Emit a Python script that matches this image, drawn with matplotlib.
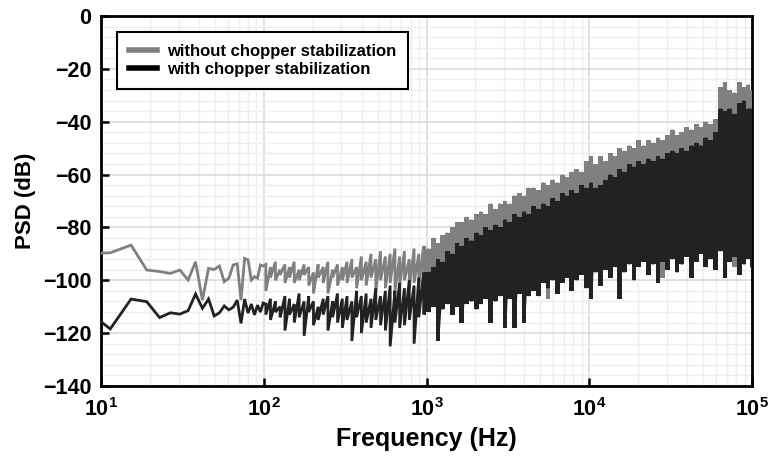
import numpy as np
import matplotlib
matplotlib.use("Agg")
import matplotlib.pyplot as plt
from matplotlib.lines import Line2D

# ---- data ----
# low-frequency FFT bins (Hz) and PSD (dB)
f_low = [7.6, 11.4, 15.3, 19.1, 22.9, 26.7, 30.5, 34.3, 38.1, 42.0, 45.8, 49.6, 53.4,
         57.2, 61.0, 64.9, 68.7, 72.5, 76.3, 80.1, 83.9, 87.7, 91.6, 95.4, 99.2]
gray_low = [-90, -89.6, -86.7, -96.1, -96.7, -97.4, -96.1, -99.9, -93.0, -107.5, -95.5, -95.9, -94.6,
            -100.5, -99.2, -94.2, -93.8, -107.5, -91.7, -92.3, -99.9, -98.6, -99.2, -94.2, -94.6]
black_low = [-110, -118.4, -107.1, -108.1, -114.1, -112.3, -112.8, -111.5, -105.2, -110.6, -107.1, -113.5, -112.3,
             -109.7, -111.2, -110.2, -107.5, -116.3, -107.1, -112.4, -109.0, -113.1, -109.4, -112.0, -108.6]

# dense part: per frequency, local max / min of each trace
f_band = [103, 110, 118, 126, 135, 144, 154, 165, 177, 189, 202, 216, 232, 248, 265, 284, 304, 325,
          348, 372, 398, 426, 456, 488, 522, 559, 598, 640, 684, 732, 784, 839, 897, 960,
          1027, 1099, 1176, 1258, 1346, 1441, 1541, 1649, 1765, 1888, 2020, 2162, 2313, 2475,
          2648, 2834, 3032, 3244, 3471, 3714, 3974, 4252, 4550, 4869, 5209, 5574, 5964, 6382,
          6828, 7306, 7818, 8365, 8951, 9577, 10248, 10965, 11733, 12554, 13433, 14373, 15379,
          16456, 17608, 18840, 20159, 21570, 23080, 24696, 26424, 28274, 30253, 32371, 34637,
          37062, 39656, 42432, 45402, 48580, 51981, 55619, 59513, 63679, 68136, 72906, 78009,
          83470, 89313, 95565, 100000]

gray_hi = [-94, -95, -93, -96, -94, -95, -93, -96, -94, -95, -97, -94, -95, -93, -96, -94, -95, -93,
           -92, -95, -91, -93, -90, -92, -89, -91, -90, -88, -91, -89, -92, -88, -90, -87,
           -88, -84, -86, -83, -82, -80, -78, -78, -76, -77, -75, -74, -75, -71,
           -73, -71, -70, -71, -68, -67, -68, -65, -65, -66, -63, -64, -62, -63,
           -60, -61, -59, -58, -59, -55, -53, -56, -53, -55, -52, -53, -50,
           -51, -49, -50, -47, -49, -47, -48, -46, -47, -45, -43, -45,
           -44, -42, -43, -41, -42, -40, -41, -39, -27, -25, -28, -29,
           -25, -27, -26, -28]
gray_lo = [-104, -99, -100, -98, -101, -99, -101, -100, -98, -102, -105, -99, -101, -105, -99, -102, -100, -101,
           -99, -103, -100, -102, -99, -104, -100, -103, -101, -104, -102, -100, -103, -101, -102, -104,
           -108, -105, -112, -106, -104, -109, -106, -110, -105, -103, -107, -104, -102, -110,
           -103, -101, -112, -102, -111, -100, -108, -101, -99, -103, -98, -107, -97, -101,
           -98, -96, -100, -97, -95, -99, -102, -94, -98, -93, -96, -92, -101,
           -94, -91, -96, -92, -90, -95, -91, -97, -99, -93, -89, -94,
           -91, -88, -95, -90, -87, -92, -89, -93, -86, -95, -90, -95,
           -94, -91, -89, -92]
black_hi = [-109, -107, -108, -110, -106, -107, -109, -105, -108, -106, -108, -110, -107, -106, -108, -105, -107, -106,
            -108, -104, -106, -105, -107, -103, -106, -104, -102, -104, -101, -103, -100, -102, -99, -97,
            -97, -95, -92, -93, -89, -90, -86, -87, -84, -85, -82, -83, -80, -81,
            -79, -80, -77, -78, -75, -76, -74, -75, -72, -73, -71, -72, -69, -70,
            -67, -68, -66, -67, -64, -65, -63, -65, -64, -62, -60, -61, -58,
            -59, -56, -57, -55, -56, -54, -55, -53, -54, -52, -51, -52,
            -50, -51, -49, -48, -49, -46, -47, -44, -35, -36, -35, -37,
            -33, -32, -35, -35]
black_lo = [-113, -115, -112, -114, -119, -113, -116, -114, -121, -112, -117, -115, -113, -119, -114, -116, -118, -115,
            -123, -114, -120, -116, -118, -115, -117, -119, -125, -116, -118, -117, -115, -124, -114, -113,
            -112, -110, -123, -111, -109, -113, -110, -116, -109, -108, -111, -109, -107, -116,
            -108, -106, -118, -107, -118, -105, -116, -106, -104, -106, -101, -103, -100, -105,
            -101, -99, -104, -100, -98, -103, -107, -97, -102, -96, -99, -95, -107,
            -97, -94, -100, -95, -93, -98, -94, -101, -93, -96, -92, -97,
            -94, -91, -99, -93, -90, -95, -92, -96, -89, -99, -93, -91,
            -98, -94, -92, -95]

x_ticks = [1e1, 1e2, 1e3, 1e4, 1e5]
x_ticklabels = [r'$\mathbf{10^{1}}$', r'$\mathbf{10^{2}}$', r'$\mathbf{10^{3}}$',
                r'$\mathbf{10^{4}}$', r'$\mathbf{10^{5}}$']
y_ticks = [0, -20, -40, -60, -80, -100, -120, -140]

labels = ['without chopper stabilization', 'with chopper stabilization']
c_gray = '#808080'
c_black = '#222222'


def zigzag(f, hi, lo):
    x = np.repeat(np.asarray(f, float), 2)
    y = np.column_stack([hi, lo]).ravel()
    return x, y


plt.rcParams['font.family'] = ['Liberation Sans', 'DejaVu Sans']
plt.rcParams['font.weight'] = 'bold'
plt.rcParams['mathtext.fontset'] = 'custom'
plt.rcParams['mathtext.bf'] = 'Liberation Sans:bold'
plt.rcParams['mathtext.rm'] = 'Liberation Sans:bold'

fig = plt.figure(figsize=(7.73, 4.57), dpi=100)
ax = fig.add_axes([101 / 773, 1 - 386 / 457, 651 / 773, 370 / 457])

fb = np.asarray(f_band, float)
dense = fb >= 950

for low, hi, lo, c in [(gray_low, gray_hi, gray_lo, c_gray),
                       (black_low, black_hi, black_lo, c_black)]:
    zx, zy = zigzag(f_band, hi, lo)
    ax.plot(np.concatenate([f_low, zx]), np.concatenate([low, zy]),
            color=c, lw=2.0, solid_joinstyle='miter', zorder=3)
    ax.fill_between(fb[dense], np.asarray(lo)[dense], np.asarray(hi)[dense],
                    step='mid', color=c, lw=0, zorder=3)

ax.set_xscale('log')
ax.set_xlim(10, 1e5)
ax.set_ylim(-140, 0)
ax.set_xticks(x_ticks)
ax.set_xticklabels(x_ticklabels)
ax.set_yticks(y_ticks)
ax.set_yticks(np.arange(-140, 1, 4), minor=True)

ax.grid(which='major', color='#dcdcdc', lw=1.2, zorder=0)
ax.grid(which='minor', color='#eeeeee', lw=1.0, zorder=0)
ax.set_axisbelow(True)

ax.tick_params(which='major', direction='in', length=6, width=1.8, labelsize=15.5, pad=7)
ax.tick_params(axis='x', pad=9)
ax.tick_params(which='minor', length=0)
for s in ax.spines.values():
    s.set_linewidth(2.0)

ax.set_xlabel('Frequency (Hz)', fontsize=18, fontweight='bold', labelpad=4)
ax.set_ylabel('PSD (dB)', fontsize=16, fontweight='bold', labelpad=5)

handles = [Line2D([], [], color=c_gray, lw=4), Line2D([], [], color='black', lw=4)]
leg = ax.legend(handles, labels, loc='upper left', bbox_to_anchor=(0.025, 0.957),
                borderaxespad=0, fancybox=False, framealpha=1, edgecolor='black',
                prop={'weight': 'bold', 'size': 12}, handlelength=1.7, handletextpad=0.6,
                borderpad=0.7, labelspacing=0.2)
leg.get_frame().set_linewidth(1.5)

fig.savefig('out.png', dpi=100)
